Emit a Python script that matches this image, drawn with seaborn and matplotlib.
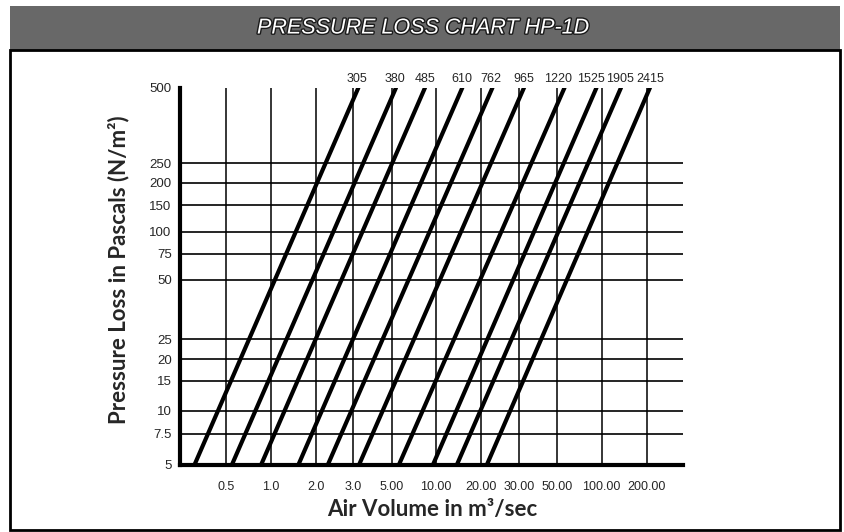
import numpy as np
import matplotlib
matplotlib.use("Agg")
import matplotlib.pyplot as plt
import seaborn as sns
import pandas as pd
from matplotlib import patheffects as pe
from matplotlib.patches import Rectangle

# ---------------- data ----------------
x_ticks = [0.5, 1, 2, 3, 5, 10, 20, 30, 50, 100, 200]
x_tick_labels = ["0.5", "1.0", "2.0", "3.0", "5.00", "10.00", "20.00",
                 "30.00", "50.00", "100.00", "200.00"]
y_ticks = [5, 7.5, 10, 15, 20, 25, 50, 75, 100, 150, 200, 250, 500]
y_tick_labels = ["5", "7.5", "10", "15", "20", "25", "50", "75", "100",
                 "150", "200", "250", "500"]
duct_sizes = ["305", "380", "485", "610", "762", "965", "1220", "1525",
              "1905", "2415"]
pressure_low, pressure_high = 5, 500
flow_at_low = [0.31, 0.55, 0.86, 1.53, 2.28, 3.24, 5.6, 9.54, 13.8, 21.3]
flow_at_high = [3.21, 5.35, 8.42, 15.0, 22.6, 32.1, 56.4, 92.3, 134.6, 210.3]
x_limits = (0.248, 350)
y_limits = (5, 500)

# ---------------- layout of the chart's nonuniform scales ----------------
x_anchor_vals = [x_limits[0]] + x_ticks + [x_limits[1]]
x_anchor_pos = [180, 225.7, 271, 315.7, 353.3, 391.7, 436, 481, 519,
                556.7, 601.7, 646.7, 683]
y_anchor_vals = y_ticks
y_anchor_pos = [-464.7, -434, -410.7, -380.7, -359, -339.3, -280, -254,
                -231.7, -205.3, -182.7, -163.3, -87.7]
# horizontal nudges (points) of the duct-size labels, to keep them apart
label_dx = [-1, -1, 0, 0, -1, 0, -5, -4, -1, 0]

xl = np.log10(x_anchor_vals)
yl = np.log10(y_anchor_vals)


def fx(v):
    v = np.clip(np.asarray(v, dtype=float), 1e-6, None)
    return np.interp(np.log10(v), xl, x_anchor_pos)


def gx(p):
    return 10 ** np.interp(np.asarray(p, dtype=float), x_anchor_pos, xl)


def fy(v):
    v = np.clip(np.asarray(v, dtype=float), 1e-6, None)
    return np.interp(np.log10(v), yl, y_anchor_pos)


def gy(p):
    return 10 ** np.interp(np.asarray(p, dtype=float), y_anchor_pos, yl)


# ---------------- figure ----------------
sns.set_style("white")
plt.rcParams["font.family"] = ["Liberation Sans", "DejaVu Sans"]

W, H = 845, 532
fig = plt.figure(figsize=(W / 100, H / 100), dpi=100)

# banner and frame
fig.patches.append(Rectangle((10 / W, (H - 50) / H), 830 / W, 44 / H,
                             transform=fig.transFigure, facecolor="#686868",
                             edgecolor="none", zorder=0))
fig.patches.append(Rectangle((10 / W, (H - 530) / H), 830 / W, 480 / H,
                             transform=fig.transFigure, facecolor="none",
                             edgecolor="black", lw=2.0, zorder=0))
fig.text(423 / W, (H - 28) / H, "PRESSURE LOSS CHART HP-1D",
         ha="center", va="center", color="white", style="italic",
         fontsize=15.5,
         path_effects=[pe.withStroke(linewidth=2.0, foreground="#1a1a1a")])

ax = fig.add_axes([180 / W, (H - 464.7) / H, 503 / W, 377 / H])
ax.set_facecolor("white")

df = pd.DataFrame({
    "duct": duct_sizes * 2,
    "flow": flow_at_low + flow_at_high,
    "pressure": [pressure_low] * len(duct_sizes) + [pressure_high] * len(duct_sizes),
})
sns.lineplot(data=df, x="flow", y="pressure", units="duct", estimator=None,
             sort=False, color="black", lw=3.0, ax=ax, legend=False, zorder=5)

ax.set_xscale("function", functions=(fx, gx))
ax.set_yscale("function", functions=(fy, gy))
ax.set_xlim(*x_limits)
ax.set_ylim(*y_limits)

# grid
ax.vlines(x_ticks, y_limits[0], y_limits[1], color="black", lw=1.1, zorder=2)
ax.hlines(y_ticks[:-1], x_limits[0], x_limits[1], color="black", lw=1.2, zorder=2)

ax.set_xticks(x_ticks)
ax.set_xticklabels(x_tick_labels)
ax.set_yticks(y_ticks)
ax.set_yticklabels(y_tick_labels)
ax.xaxis.set_minor_locator(matplotlib.ticker.NullLocator())
ax.yaxis.set_minor_locator(matplotlib.ticker.NullLocator())
ax.tick_params(axis="x", length=0, pad=12, labelsize=9)
ax.tick_params(axis="y", length=0, pad=6, labelsize=9.5)

for s in ["top", "right"]:
    ax.spines[s].set_visible(False)
for s in ["left", "bottom"]:
    ax.spines[s].set_linewidth(3.0)
    ax.spines[s].set_color("black")

# duct size labels
for d, xv, dx in zip(duct_sizes, flow_at_high, label_dx):
    ax.annotate(d, xy=(xv, pressure_high), xytext=(dx, 2.0),
                textcoords="offset points", ha="center", va="bottom",
                fontsize=9, annotation_clip=False)

ax.set_xlabel("Air Volume in m³/sec", fontsize=16, fontweight="bold",
              family=["Lato", "DejaVu Sans"])
ax.set_ylabel("Pressure Loss in Pascals (N/m²)", fontsize=16,
              fontweight="bold", family=["Lato", "DejaVu Sans"])
ax.xaxis.set_label_coords((432 - 180) / 503, (464.7 - 499) / 377)
ax.yaxis.set_label_coords((129 - 180) / 503, (464.7 - 270) / 377)

fig.savefig("out.png", dpi=100)
